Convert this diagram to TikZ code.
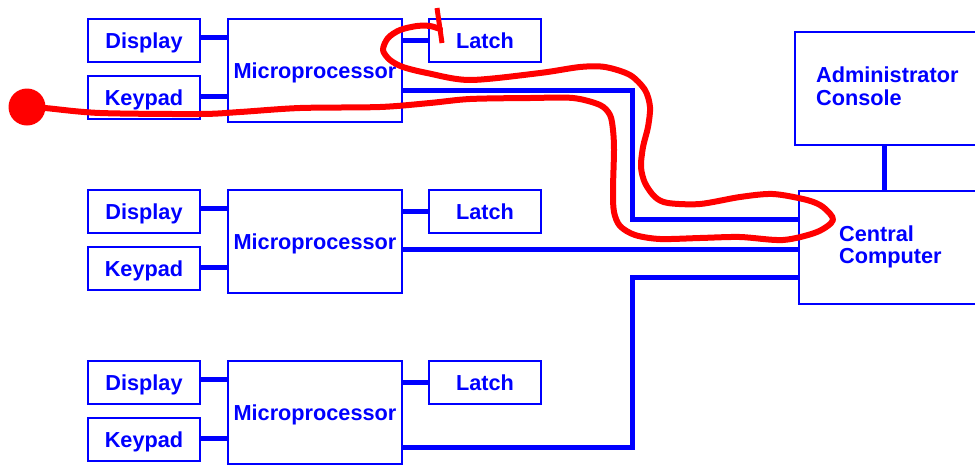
\documentclass[tikz,border=0pt]{standalone}
\usepackage{fontspec}
\setmainfont{Liberation Sans}
\begin{document}
\begin{tikzpicture}[x=1pt,y=-1pt,
  box/.style={draw=blue, line width=1.5pt, inner sep=0pt, text=blue,
    text height=15.6pt, text depth=0pt,
    font=\bfseries\fontsize{21.7}{24}\selectfont},
  dev/.style={box, minimum width=112pt, minimum height=43pt},
  cpu/.style={box, minimum width=174pt, minimum height=103pt},
  big/.style={box, anchor=north west, minimum height=113pt},
  lbl/.style={text=blue, inner sep=0pt, anchor=base west,
    font=\bfseries\fontsize{21.7}{24}\selectfont},
  wire/.style={draw=blue, line width=5pt},
  pen/.style={draw=red, line width=6pt, line cap=round, line join=round}]
\useasboundingbox (0,0) rectangle (975,464);
\clip (0,0) rectangle (975,464);
% group 1
\node[dev] (d1) at (144,40.5) {Display};
\node[dev] (k1) at (144,97.5) {Keypad};
\node[cpu] (m1) at (315,70.5) {Microprocessor};
\node[dev] (l1) at (485,40.5) {Latch};
% group 2
\node[dev] (d2) at (144,211.5) {Display};
\node[dev] (k2) at (144,268.5) {Keypad};
\node[cpu] (m2) at (315,241.5) {Microprocessor};
\node[dev] (l2) at (485,211.5) {Latch};
% group 3
\node[dev] (d3) at (144,382.5) {Display};
\node[dev] (k3) at (144,439.5) {Keypad};
\node[cpu] (m3) at (315,412.5) {Microprocessor};
\node[dev] (l3) at (485,382.5) {Latch};
% right side
\node[big, minimum width=192pt] (ac) at (794,31) {};
\node[big, minimum width=188pt] (cc) at (798,190) {};
\node[lbl] (t1) at (816,82) {Administrator};
\node[lbl] (t2) at (816,105) {Console};
\node[lbl] (t3) at (839,241) {Central};
\node[lbl] (t4) at (839,263) {Computer};
% wires
\foreach \i in {1,2,3}{
  \draw[wire] ([yshift=3pt]d\i.east) -- ([yshift=3pt]d\i.east -| m\i.west);
  \draw[wire] ([yshift=1.5pt]k\i.east) -- ([yshift=1.5pt]k\i.east -| m\i.west);
  \draw[wire] (l\i.west) -- (l\i.west -| m\i.east);
}
\coordinate (y1) at (0,90);
\coordinate (j1) at (632,219);
\coordinate (y2) at (0,249);
\coordinate (y3) at (0,447);
\coordinate (j3) at (632,277);
\coordinate (xa) at (884,0);
\draw[wire] (m1.east |- y1) -| (j1) -- (j1 -| cc.west);
\draw[wire] (m2.east |- y2) -- (cc.west |- y2);
\draw[wire] (m3.east |- y3) -| (j3) -- (j3 -| cc.west);
\draw[wire] (ac.south -| xa) -- (cc.north -| xa);
% red annotation
\node[circle, fill=red, minimum size=37pt, inner sep=0pt] (dot) at (27,107) {};
\coordinate (tk1) at (437,8);
\coordinate (tk2) at (442,43);
\draw[pen] plot[smooth, tension=0.5] coordinates {(dot.center) (45,108) (100,113) (200,114) (240,112) (300,108) (380,107) (430,103) (470,99) (530,98) (573,98) (600,105) (610,115) (613,130) (614,150) (613,190) (614,212) (620,226) (635,235) (660,239) (700,238) (740,237) (783,240) (817,232) (833,220) (823,207) (807,200) (773,194) (740,197) (700,204) (668,203) (655,197) (645,183) (641,167) (643,147) (648,127) (650,107) (645,90) (630,75) (605,67) (580,67) (540,73) (470,80) (427,73) (403,67) (390,60) (383,50) (388,38) (400,30) (417,26) (430,26) (440,29)};
\draw[draw=red, line width=5pt] (tk1) -- (tk2);
\end{tikzpicture}
\end{document}
